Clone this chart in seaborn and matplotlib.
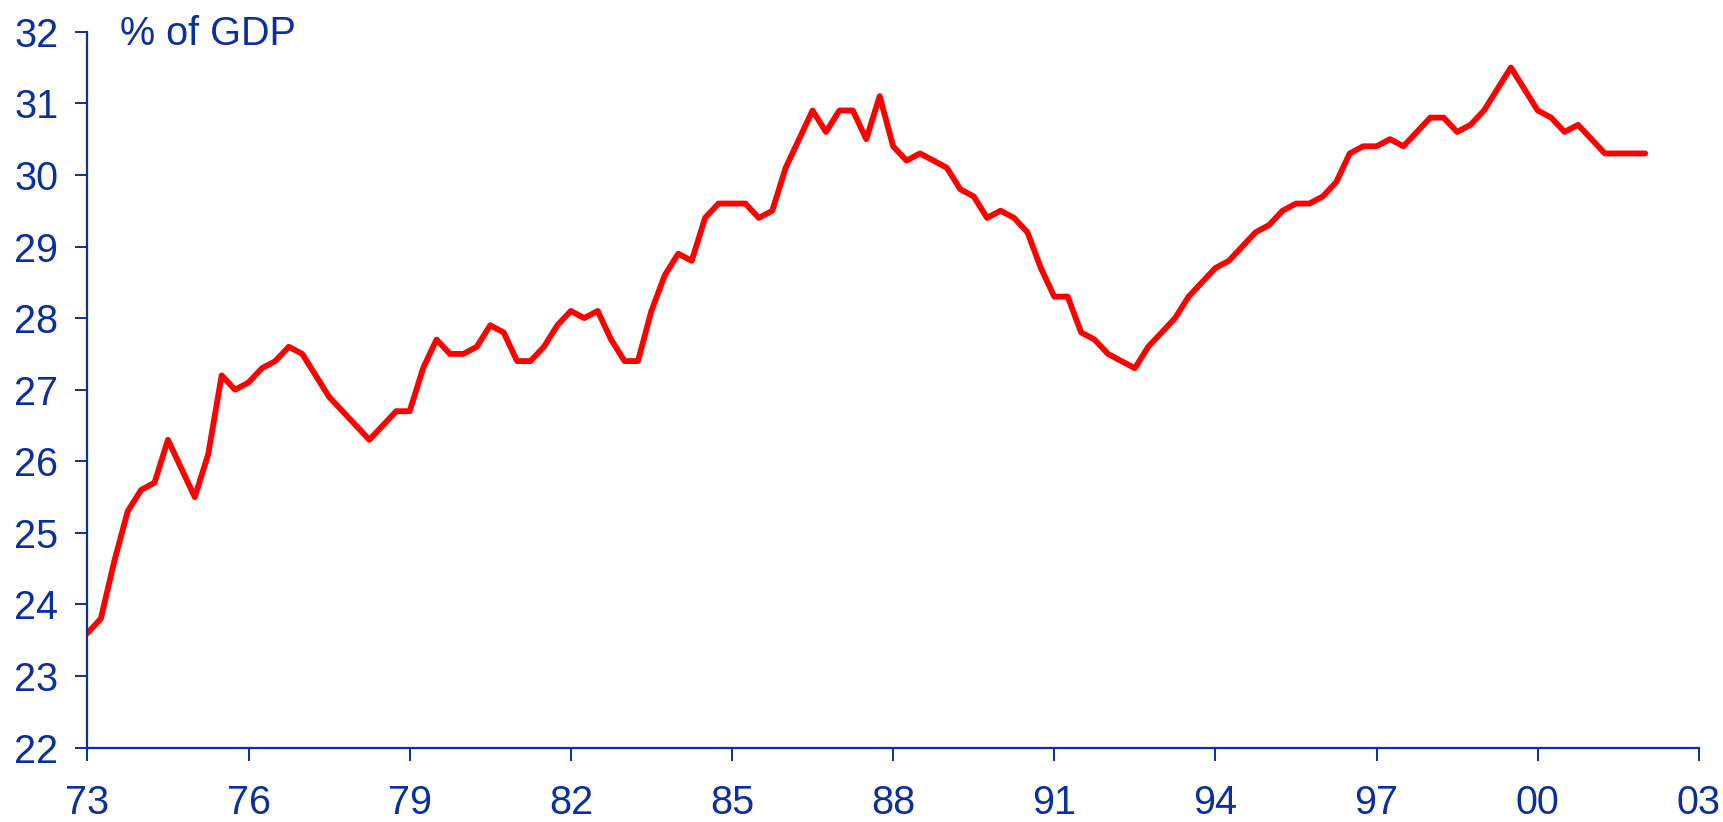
import numpy as np
import pandas as pd
import matplotlib
matplotlib.use("Agg")
import matplotlib.pyplot as plt
import seaborn as sns

# quarterly share of GDP, 1973Q1 .. 2002Q1
values = [23.6, 23.8, 24.6, 25.3, 25.6, 25.7, 26.3, 25.9, 25.5, 26.1,
          27.2, 27.0, 27.1, 27.3, 27.4, 27.6, 27.5, 27.2, 26.9, 26.7,
          26.5, 26.3, 26.5, 26.7, 26.7, 27.3, 27.7, 27.5, 27.5, 27.6,
          27.9, 27.8, 27.4, 27.4, 27.6, 27.9, 28.1, 28.0, 28.1, 27.7,
          27.4, 27.4, 28.1, 28.6, 28.9, 28.8, 29.4, 29.6, 29.6, 29.6,
          29.4, 29.5, 30.1, 30.5, 30.9, 30.6, 30.9, 30.9, 30.5, 31.1,
          30.4, 30.2, 30.3, 30.2, 30.1, 29.8, 29.7, 29.4, 29.5, 29.4,
          29.2, 28.7, 28.3, 28.3, 27.8, 27.7, 27.5, 27.4, 27.3, 27.6,
          27.8, 28.0, 28.3, 28.5, 28.7, 28.8, 29.0, 29.2, 29.3, 29.5,
          29.6, 29.6, 29.7, 29.9, 30.3, 30.4, 30.4, 30.5, 30.4, 30.6,
          30.8, 30.8, 30.6, 30.7, 30.9, 31.2, 31.5, 31.2, 30.9, 30.8,
          30.6, 30.7, 30.5, 30.3, 30.3, 30.3, 30.3]
start_year = 1973
tick_years = [1973, 1976, 1979, 1982, 1985, 1988, 1991, 1994, 1997, 2000, 2003]
tick_labels = ["73", "76", "79", "82", "85", "88", "91", "94", "97", "00", "03"]
y_ticks = list(range(22, 33))

df = pd.DataFrame({"year": start_year + 0.25 * np.arange(len(values)),
                   "value": values})

sns.set_style("white")
plt.rcParams['font.family'] = ['Liberation Sans', 'DejaVu Sans']
blue = "#0a2f9e"

fig = plt.figure(figsize=(17.23, 8.22), dpi=100)
ax = fig.add_axes([0.0507, 0.0904, 0.9353, 0.871])

sns.lineplot(data=df, x="year", y="value", color="#ff0000", linewidth=4.2, ax=ax)

ax.set_xlim(1973, 2003)
ax.set_ylim(22, 32)
ax.set_xticks(tick_years)
ax.set_xticklabels(tick_labels)
ax.set_yticks(y_ticks)
ax.set_xlabel("")
ax.set_ylabel("")

for s in ["top", "right"]:
    ax.spines[s].set_visible(False)
for s in ["left", "bottom"]:
    ax.spines[s].set_color(blue)
    ax.spines[s].set_linewidth(1.6)

ax.tick_params(axis="both", colors=blue, labelsize=28.5, length=9, width=1.4,
               direction="out", bottom=True, left=True)
ax.tick_params(axis="x", pad=17)
ax.tick_params(axis="y", pad=12)

fig.text(0.0699, 0.982, "% of GDP", color=blue, fontsize=28.5, va="top", ha="left")

fig.savefig("out.png", dpi=100)
